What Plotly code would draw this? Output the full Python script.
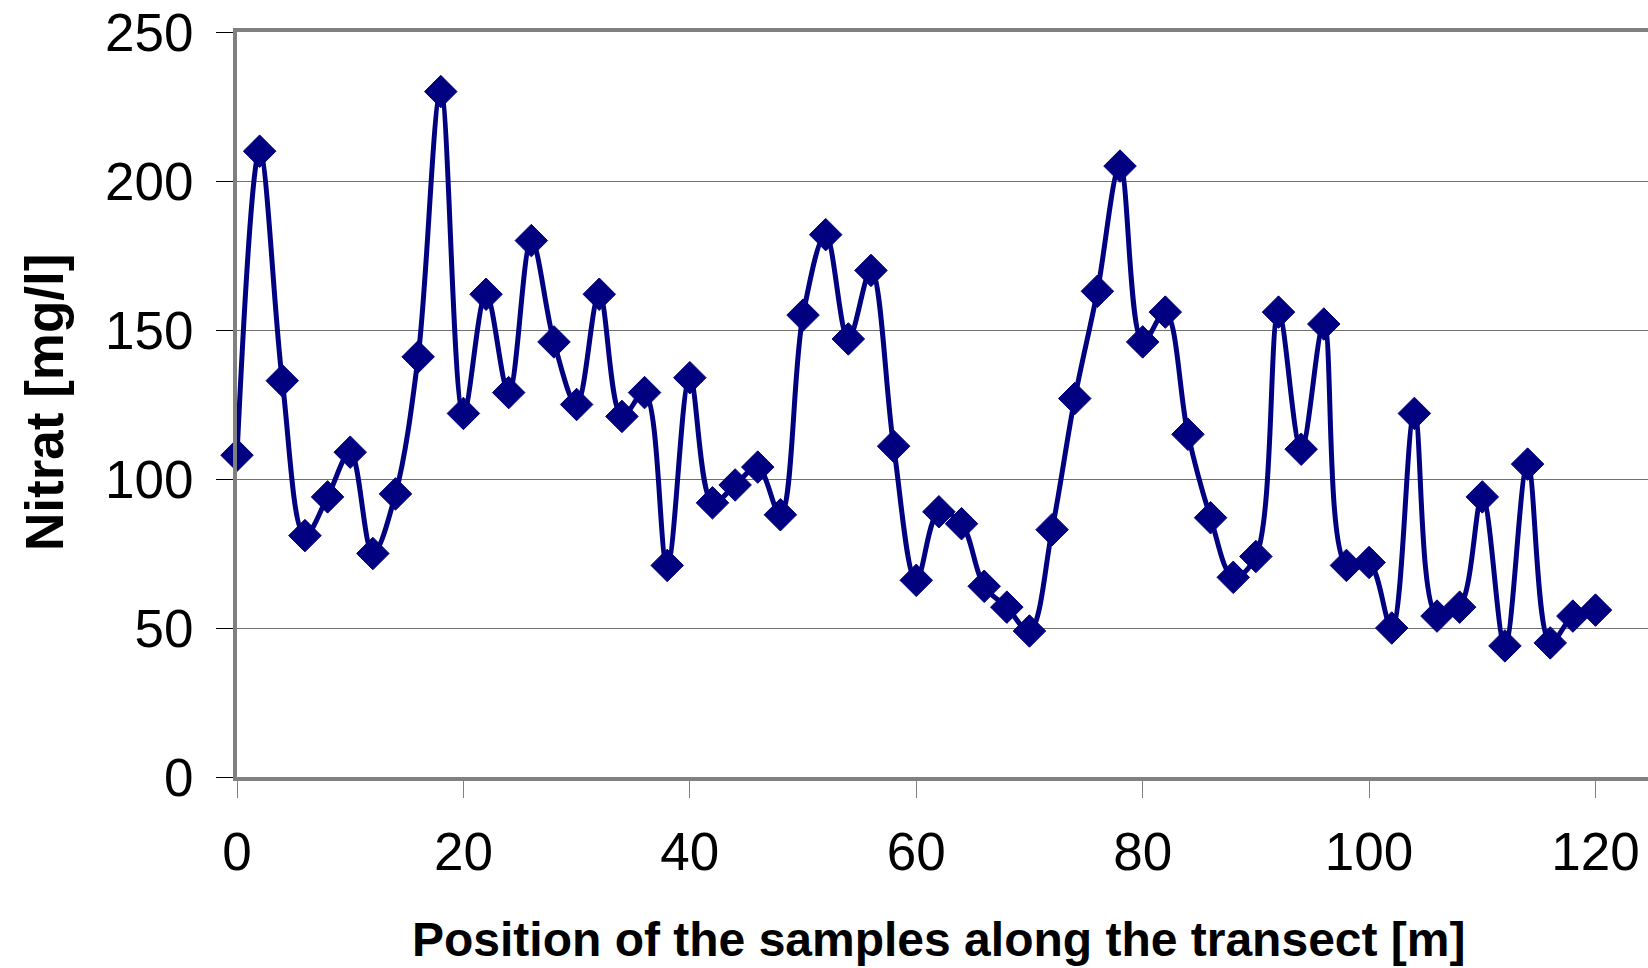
import plotly.graph_objects as go

# Sample positions along the transect (m) and measured nitrate (mg/l)
position_m = [0, 2, 4, 6, 8, 10, 12, 14, 16, 18, 20, 22, 24, 26, 28, 30,
              32, 34, 36, 38, 40, 42, 44, 46, 48, 50, 52, 54, 56, 58, 60,
              62, 64, 66, 68, 70, 72, 74, 76, 78, 80, 82, 84, 86, 88, 90,
              92, 94, 96, 98, 100, 102, 104, 106, 108, 110, 112, 114, 116,
              118, 120]
nitrate_mg_l = [108, 210, 133, 81, 94, 109, 75, 95, 141, 230, 122, 162, 129,
                180, 146, 125, 162, 121, 129, 71, 134, 92, 98, 104, 88, 155,
                182, 147, 170, 111, 66, 89, 85, 64, 57, 49, 83, 127, 163, 205,
                146, 156, 115, 87, 67, 74, 156, 110, 152, 71, 72, 50, 122, 54,
                57, 94, 44, 105, 45, 54, 56]

x_ticks = [0, 20, 40, 60, 80, 100, 120]
y_ticks = [0, 50, 100, 150, 200, 250]

NAVY = "#000080"
FONT = "Liberation Sans, Arial, sans-serif"

fig = go.Figure()
fig.add_trace(go.Scatter(
    x=position_m,
    y=nitrate_mg_l,
    mode="lines+markers",
    line=dict(color=NAVY, width=5, shape="spline", smoothing=1.0),
    marker=dict(symbol="diamond", size=25, color=NAVY,
                line=dict(color=NAVY, width=1)),
    cliponaxis=False,
    showlegend=False,
))

W, H = 1648, 968
L, T, B = 237, 32, 191
plot_w = W - L
plot_h = H - T - B

fig.update_layout(
    width=W, height=H,
    margin=dict(l=L, r=0, t=T, b=B, pad=0),
    paper_bgcolor="white",
    plot_bgcolor="white",
    font=dict(family=FONT, color="black"),
    xaxis=dict(
        range=[0, (W - L) / ((1595.5 - 237) / 120)],
        tickvals=x_ticks,
        ticktext=[str(v) for v in x_ticks],
        tickfont=dict(size=53, family=FONT),
        ticks="outside", ticklen=17, tickwidth=1, tickcolor="#808080",
        ticklabelstandoff=8,
        showline=True, linecolor="#808080", linewidth=4, mirror=True,
        showgrid=False, zeroline=False,
    ),
    yaxis=dict(
        range=[0, 250],
        tickvals=y_ticks,
        ticktext=[str(v) for v in y_ticks],
        tickfont=dict(size=53, family=FONT),
        ticks="outside", ticklen=17, tickwidth=1, tickcolor="black",
        ticklabelstandoff=12,
        showline=True, linecolor="#808080", linewidth=4, mirror=False,
        showgrid=True, gridcolor="#707070", gridwidth=1,
        zeroline=False,
    ),
    annotations=[
        dict(text="<b>Position of the samples along the transect [m]</b>",
             xref="paper", yref="paper",
             x=(939 - L) / plot_w, y=(T + plot_h - 939) / plot_h,
             xanchor="center", yanchor="middle", showarrow=False,
             font=dict(size=48, family=FONT, color="black")),
        dict(text="<b>Nitrat [mg/l]</b>",
             xref="paper", yref="paper",
             x=(44 - L) / plot_w, y=(T + plot_h - 403) / plot_h,
             xanchor="center", yanchor="middle", showarrow=False,
             textangle=-90,
             font=dict(size=53, family=FONT, color="black")),
    ],
)

fig.write_html("out.html")
